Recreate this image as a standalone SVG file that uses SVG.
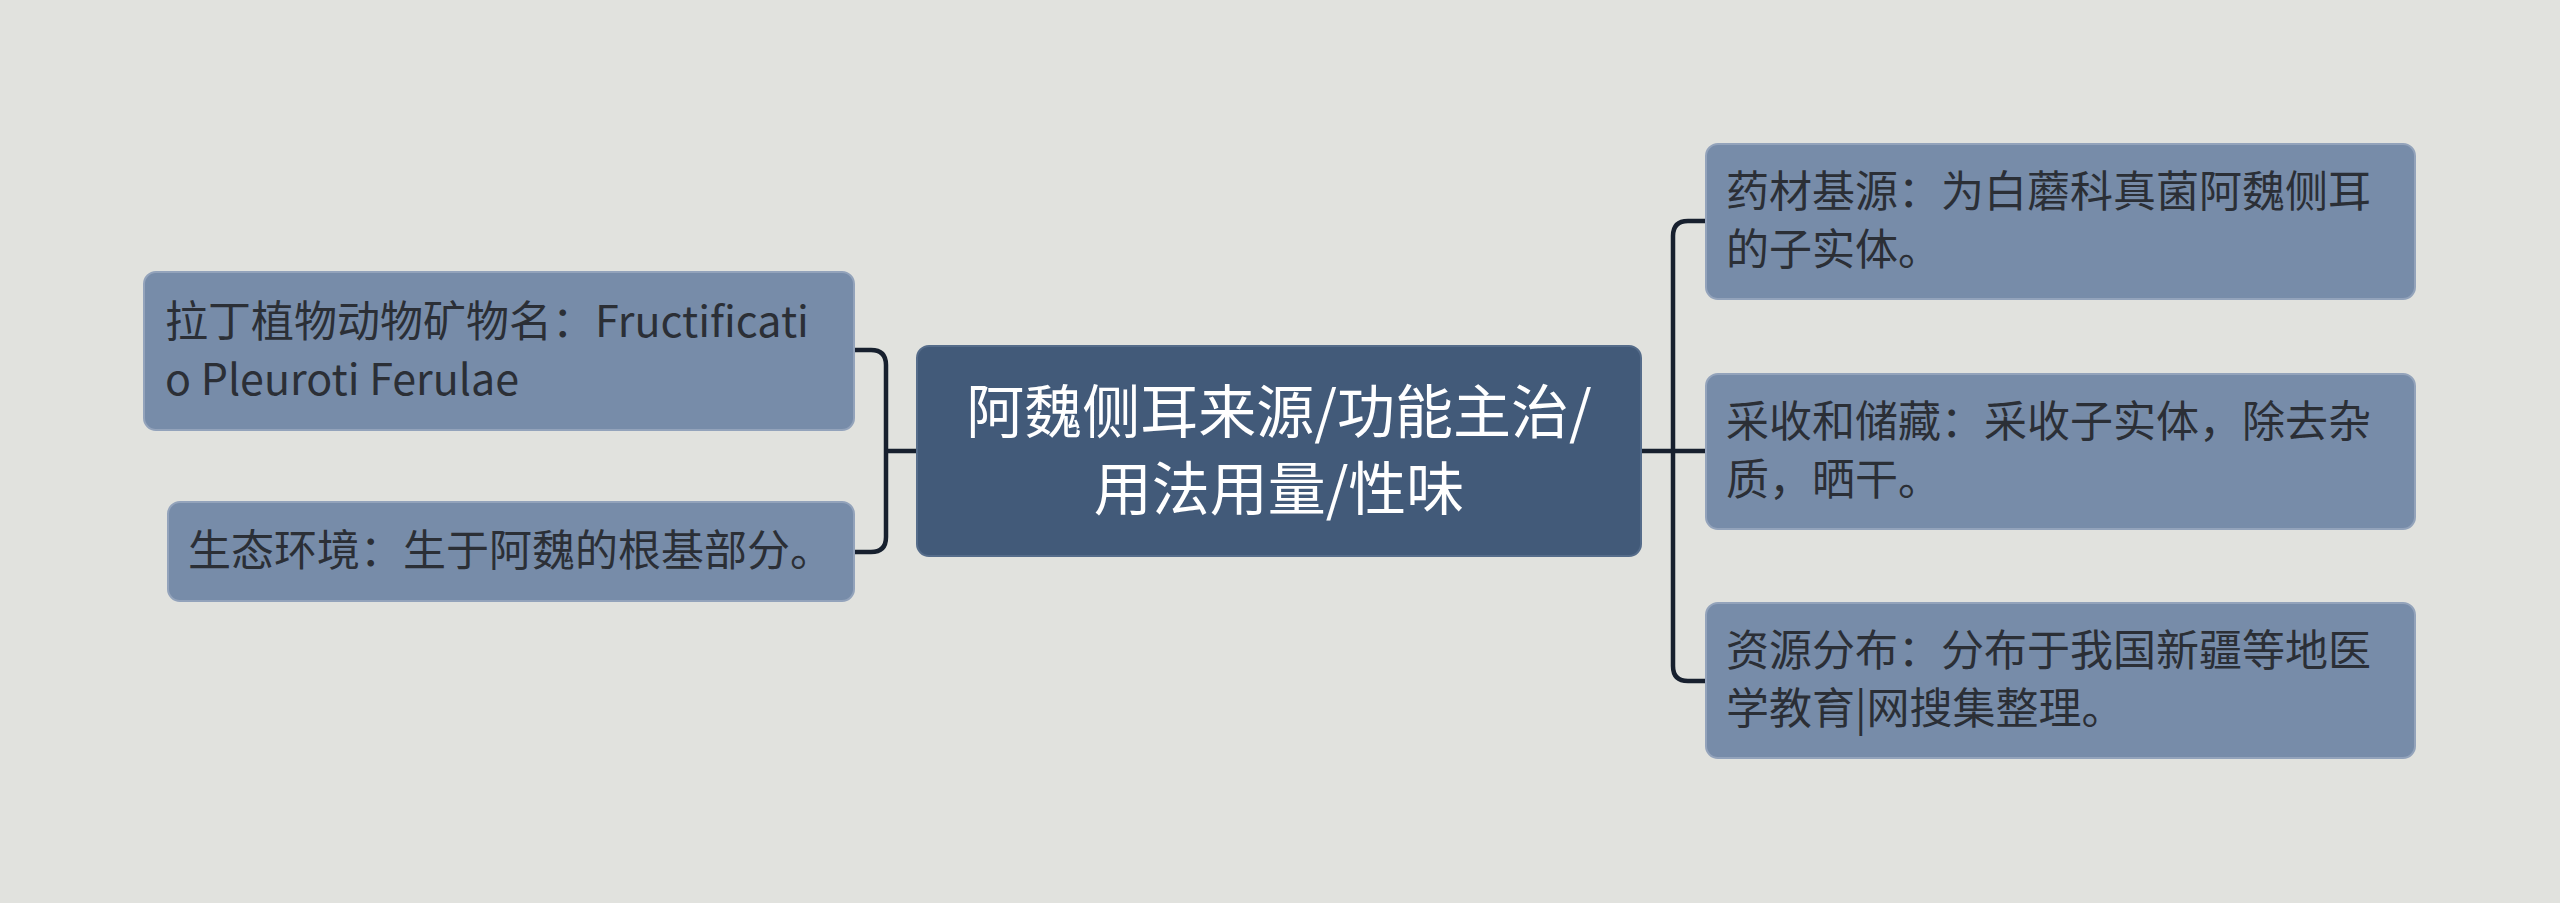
<svg xmlns="http://www.w3.org/2000/svg" width="2560" height="903" viewBox="0 0 2560 903">
<style>
.bg{fill:#e1e2de}
.sub{fill:#778ca9;stroke:#93a3bb;stroke-width:2}
.root{fill:#425a79;stroke:#556c8a;stroke-width:2}
.t{font-family:"Noto Sans CJK SC","Microsoft YaHei",sans-serif;font-size:43px;fill:#2b2f36}
.rt{font-family:"Noto Sans CJK SC","Microsoft YaHei",sans-serif;font-size:58px;fill:#ffffff;text-anchor:middle}
.c{fill:none;stroke:#17202e;stroke-width:4.5;stroke-linecap:round;stroke-linejoin:round}
</style>
<rect class="bg" x="0" y="0" width="2560" height="903"/>
<g id="connectors">
<path class="c" d="M917,451 H886 M854,350 H871 Q886,350 886,365 V537 Q886,552 871,552 H854"/>
<path class="c" d="M1641,451 H1706 M1706,221 H1688 Q1673,221 1673,236 V666 Q1673,681 1688,681 H1706"/>
</g>
<g id="root">
<rect class="root" x="917" y="346" width="724" height="210" rx="12"/>
<text class="rt" x="1279" y="433">阿魏侧耳来源/功能主治/</text>
<text class="rt" x="1279" y="510">用法用量/性味</text>
</g>
<g id="left1">
<rect class="sub" x="144" y="272" width="710" height="158" rx="12"/>
<text class="t" x="165" y="337">拉丁植物动物矿物名：Fructificati</text>
<text class="t" x="165" y="395">o Pleuroti Ferulae</text>
</g>
<g id="left2">
<rect class="sub" x="168" y="502" width="686" height="99" rx="12"/>
<text class="t" x="188" y="566">生态环境：生于阿魏的根基部分。</text>
</g>
<g id="right1">
<rect class="sub" x="1706" y="144" width="709" height="155" rx="12"/>
<text class="t" x="1726" y="207">药材基源：为白蘑科真菌阿魏侧耳</text>
<text class="t" x="1726" y="265">的子实体。</text>
</g>
<g id="right2">
<rect class="sub" x="1706" y="374" width="709" height="155" rx="12"/>
<text class="t" x="1726" y="437">采收和储藏：采收子实体，除去杂</text>
<text class="t" x="1726" y="495">质，晒干。</text>
</g>
<g id="right3">
<rect class="sub" x="1706" y="603" width="709" height="155" rx="12"/>
<text class="t" x="1726" y="666">资源分布：分布于我国新疆等地医</text>
<text class="t" x="1726" y="724">学教育|网搜集整理。</text>
</g>
</svg>
